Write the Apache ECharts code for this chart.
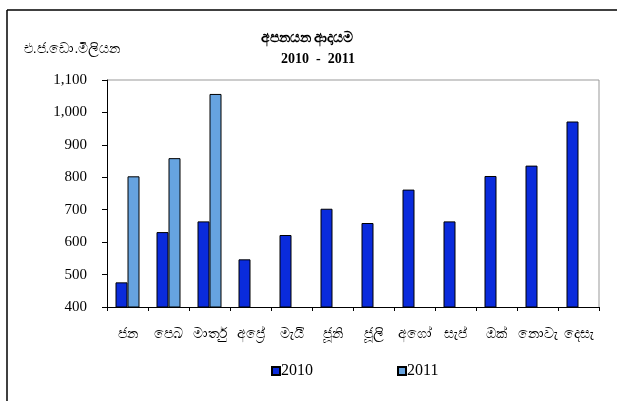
<!DOCTYPE html>
<html>
<head>
<meta charset="utf-8">
<script src="https://cdn.jsdelivr.net/npm/echarts@6/dist/echarts.min.js"></script>
<style>
  html, body { margin: 0; padding: 0; background: #fff; }
  #chart { width: 617px; height: 401px; }
</style>
</head>
<body>
<div id="chart"></div>
<script>
// මාස
var months = ["ජන", "පෙබ", "මාර්තු", "අප්‍රේ", "මැයි", "ජූනි", "ජූලි", "අගෝ", "සැප්", "ඔක්", "නොවැ", "දෙසැ"];
// 2010 ආදායම
var values2010 = [476, 631, 664, 547, 622, 703, 659, 762, 664, 804, 836, 972];
// 2011 ආදායම (පළමු මාස 3 පමණි)
var values2011 = [803, 859, 1057, null, null, null, null, null, null, null, null, null];
var yTicks = { min: 400, max: 1100, interval: 100 };

var myChart = echarts.init(document.getElementById("chart"));
var serif = "'Liberation Serif', 'Times New Roman', serif";

var option = {
  animation: false,
  title: [
    {
      text: "අපනයන ආදායම",
      left: 302,
      textAlign: "center",
      top: 26,
      textStyle: { fontSize: 14, fontWeight: "bold", color: "#000" }
    },
    {
      text: "2010  -  2011",
      left: 313,
      textAlign: "center",
      top: 47,
      textStyle: { fontSize: 14, fontWeight: "bold", color: "#000", fontFamily: serif }
    }
  ],
  legend: {
    data: ["2010", "2011"],
    top: 358,
    left: 266,
    itemGap: 84,
    itemWidth: 8,
    itemHeight: 8,
    icon: "rect",
    textStyle: { fontSize: 16, color: "#000", fontFamily: serif, padding: [0, 0, 0, -4] }
  },
  grid: { left: 107, right: 18, top: 80, bottom: 94 },
  graphic: [
    { type: "line", shape: { x1: 7, y1: 10, x2: 617, y2: 10 }, style: { stroke: "#000", lineWidth: 1.5 } },
    { type: "line", shape: { x1: 7, y1: 10, x2: 7, y2: 401 }, style: { stroke: "#000", lineWidth: 1.5 } },
    // plot area border (top and right)
    { type: "line", shape: { x1: 107, y1: 80, x2: 599, y2: 80 }, style: { stroke: "#999", lineWidth: 1 } },
    { type: "line", shape: { x1: 599, y1: 80, x2: 599, y2: 307 }, style: { stroke: "#999", lineWidth: 1 } }
  ],
  xAxis: [
    {
      type: "category",
      data: months,
      axisLine: { lineStyle: { color: "#000", width: 1 } },
      axisTick: { show: true, length: 4, lineStyle: { color: "#000" } },
      axisLabel: { fontSize: 14, color: "#000", margin: 20, interval: 0 }
    }
  ],
  yAxis: [
    {
      type: "value",
      min: yTicks.min,
      max: yTicks.max,
      interval: yTicks.interval,
      name: "එ.ජ.ඩො.මිලියන",
      nameLocation: "end",
      nameGap: 24,
      nameTextStyle: { fontSize: 14, color: "#000", align: "center", padding: [0, 70, 0, 0] },
      axisLine: { show: true, lineStyle: { color: "#000", width: 1 } },
      axisTick: { show: true, length: 5, lineStyle: { color: "#000" } },
      splitLine: { show: false },
      axisLabel: {
        fontSize: 15,
        color: "#000",
        fontFamily: serif,
        margin: 20,
        formatter: function (v) { return v.toLocaleString("en-US"); }
      }
    }
  ],
  series: [
    {
      name: "2010",
      type: "bar",
      data: values2010,
      barWidth: 12,
      barGap: "0%",
      itemStyle: { color: "#0A2BDC", borderColor: "#000", borderWidth: 1 }
    },
    {
      name: "2011",
      type: "bar",
      data: values2011,
      barWidth: 12,
      barGap: "0%",
      itemStyle: { color: "#66A3E0", borderColor: "#000", borderWidth: 1 }
    }
  ]
};

myChart.setOption(option);
</script>
</body>
</html>
